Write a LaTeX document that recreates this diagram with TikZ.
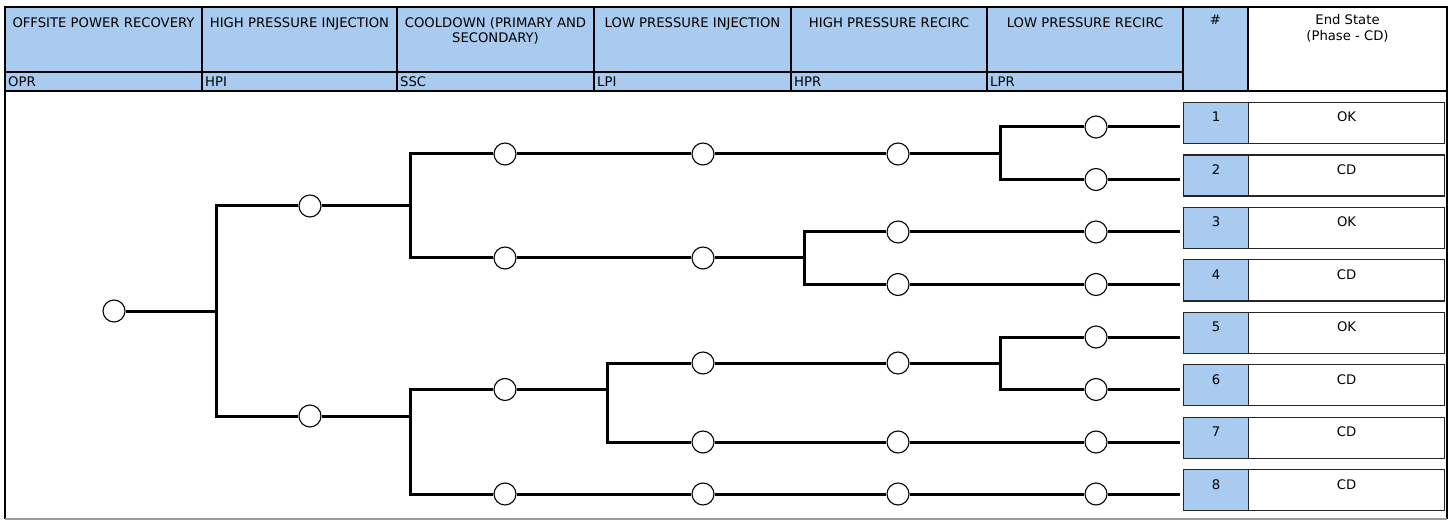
\documentclass[tikz,border=0pt]{standalone}
\usepackage{fontspec}
\setmainfont{DejaVu Sans}
\definecolor{hdrblue}{RGB}{168,203,239}
\begin{document}
\begin{tikzpicture}[x=1pt,y=-1pt,
 txt/.style={font=\fontsize{13.2}{15.5}\selectfont, inner sep=0pt, anchor=base},
 ev/.style={circle, draw, fill=white, minimum size=22pt, inner sep=0pt, line width=1.1pt},
 tree/.style={line width=3pt},
 numbox/.style={draw=black!85, line width=1.2pt, fill=hdrblue, minimum width=65pt, minimum height=41pt, anchor=north west, inner sep=0pt},
 esbox/.style={draw=black!85, line width=1.2pt, fill=white, minimum width=196pt, minimum height=41pt, anchor=north west, inner sep=0pt},
 hline/.style={line width=1.8pt}]

\useasboundingbox (0,0) rectangle (1453,521);

% header
\fill[hdrblue] (5,7) rectangle (1248,91);
\draw[hline] (5,72) -- (1183,72);
\draw[hline] (5,91) -- (1447,91);
\foreach \x in {202,397,594,791,987,1183,1248} \draw[hline] (\x,7) -- (\x,91);
\draw[hline] (5,519) -- (5,7) -- (1447,7) -- (1447,519);
\draw[line width=1.8pt, black!40] (5,519) -- (1447,519);

\node[txt] (hopr) at (103.5,28) {OFFSITE POWER RECOVERY};
\node[txt] (hhpi) at (299.5,28) {HIGH PRESSURE INJECTION};
\node[txt] (hssc) at (495.5,28) {COOLDOWN (PRIMARY AND};
\node[txt] (hssc2) at (495.5,43) {SECONDARY)};
\node[txt] (hlpi) at (692.5,28) {LOW PRESSURE INJECTION};
\node[txt] (hhpr) at (889,28) {HIGH PRESSURE RECIRC};
\node[txt] (hlpr) at (1085,28) {LOW PRESSURE RECIRC};
\node[txt] (hnum) at (1215.5,25) {\#};
\node[txt] (hes) at (1347.5,25) {End State};
\node[txt] (hes2) at (1347.5,41) {(Phase - CD)};

\node[txt, anchor=base west] (lopr) at (8,87) {OPR};
\node[txt, anchor=base west] (lhpi) at (205,87) {HPI};
\node[txt, anchor=base west] (lssc) at (400,87) {SSC};
\node[txt, anchor=base west] (llpi) at (597,87) {LPI};
\node[txt, anchor=base west] (lhpr) at (794,87) {HPR};
\node[txt, anchor=base west] (llpr) at (990,87) {LPR};

% end state boxes
\foreach \i/\t/\s in {1/102/OK,2/154.4/CD,3/206.9/OK,4/259.3/CD,5/311.7/OK,6/364.1/CD,7/416.6/CD,8/469/CD}{
  \node[numbox] (n\i) at (1183,\t) {};
  \node[esbox] (s\i) at (1248,\t) {};
  \node[txt] (tn\i) at ([yshift=-20pt]n\i.north) {\i};
  \node[txt] (ts\i) at ([yshift=-20pt]s\i.north) {\s};
}

% tree events
\node[ev] (opr) at (114,311) {};
\coordinate (j0) at (216,311); \coordinate (j0u) at (216,206); \coordinate (j0d) at (216,416);
\node[ev] (hpi1) at (310,206) {};
\node[ev] (hpi2) at (310,416) {};

\coordinate (j1) at (410,206); \coordinate (j1u) at (410,154); \coordinate (j1d) at (410,258);
\node[ev] (ssc1) at (505,154) {};
\node[ev] (ssc2) at (505,258) {};
\node[ev] (lpi1) at (703,154) {};
\node[ev] (lpi2) at (703,258) {};
\node[ev] (hpr1) at (898,154) {};
\coordinate (j2) at (1000,154); \coordinate (j2u) at (1000,127); \coordinate (j2d) at (1000,179.5);
\node[ev] (lpr1) at (1096,127) {};
\node[ev] (lpr2) at (1096,179.5) {};
\coordinate (j3) at (804,258); \coordinate (j3u) at (804,232); \coordinate (j3d) at (804,284.5);
\node[ev] (hpr3) at (898,232) {};
\node[ev] (hpr4) at (898,284.5) {};
\node[ev] (lpr3) at (1096,232) {};
\node[ev] (lpr4) at (1096,284.5) {};

\coordinate (j4) at (410,416); \coordinate (j4u) at (410,389.5); \coordinate (j4d) at (410,494);
\node[ev] (ssc5) at (505,389.5) {};
\coordinate (j5) at (607,389.5); \coordinate (j5u) at (607,363); \coordinate (j5d) at (607,442);
\node[ev] (lpi5) at (703,363) {};
\node[ev] (hpr5) at (898,363) {};
\coordinate (j6) at (1000,363); \coordinate (j6u) at (1000,337); \coordinate (j6d) at (1000,389.5);
\node[ev] (lpr5) at (1096,337) {};
\node[ev] (lpr6) at (1096,389.5) {};
\node[ev] (lpi7) at (703,442) {};
\node[ev] (hpr7) at (898,442) {};
\node[ev] (lpr7) at (1096,442) {};
\node[ev] (ssc8) at (505,494) {};
\node[ev] (lpi8) at (703,494) {};
\node[ev] (hpr8) at (898,494) {};
\node[ev] (lpr8) at (1096,494) {};

% connectors
\draw[tree] (opr) -- (j0);
\draw[tree] (hpi1) -- (j0u) -- (j0d) -- (hpi2);
\draw[tree] (hpi1) -- (j1);
\draw[tree] (ssc1) -- (j1u) -- (j1d) -- (ssc2);
\draw[tree] (ssc1) -- (lpi1);
\draw[tree] (lpi1) -- (hpr1);
\draw[tree] (hpr1) -- (j2);
\draw[tree] (lpr1) -- (j2u) -- (j2d) -- (lpr2);
\draw[tree] (ssc2) -- (lpi2);
\draw[tree] (lpi2) -- (j3);
\draw[tree] (hpr3) -- (j3u) -- (j3d) -- (hpr4);
\draw[tree] (hpr3) -- (lpr3);
\draw[tree] (hpr4) -- (lpr4);

\draw[tree] (hpi2) -- (j4);
\draw[tree] (ssc5) -- (j4u) -- (j4d) -- (ssc8);
\draw[tree] (ssc5) -- (j5);
\draw[tree] (lpi5) -- (j5u) -- (j5d) -- (lpi7);
\draw[tree] (lpi5) -- (hpr5);
\draw[tree] (hpr5) -- (j6);
\draw[tree] (lpr5) -- (j6u) -- (j6d) -- (lpr6);
\draw[tree] (lpi7) -- (hpr7);
\draw[tree] (hpr7) -- (lpr7);
\draw[tree] (ssc8) -- (lpi8);
\draw[tree] (lpi8) -- (hpr8);
\draw[tree] (hpr8) -- (lpr8);

\foreach \i in {1,...,8}{
  \draw[tree, shorten >=3pt] (lpr\i) -- (lpr\i -| n\i.west);
}
\end{tikzpicture}
\end{document}
